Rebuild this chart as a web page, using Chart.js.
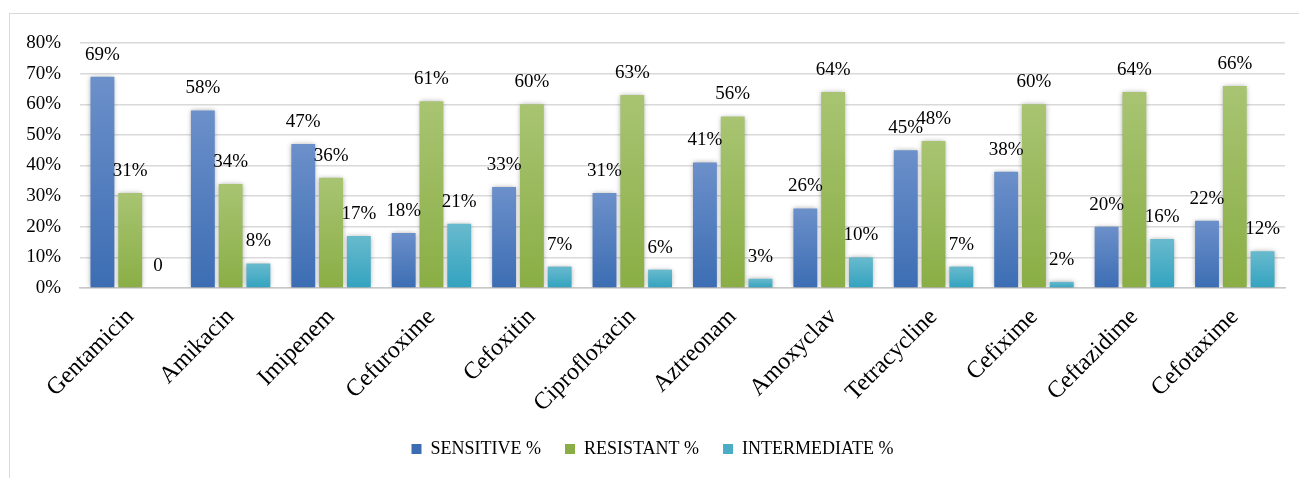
<!DOCTYPE html>
<html>
<head>
<meta charset="utf-8">
<script src="https://cdn.jsdelivr.net/npm/chart.js@4.4.1/dist/chart.umd.min.js"></script>
<style>
  html, body { margin: 0; padding: 0; background: #fff; overflow: hidden; }
  #wrap { position: absolute; left: 0; top: 0; width: 1299px; height: 478px; }
  #frame { position: absolute; left: 9px; top: 13px; width: 1400px; height: 600px;
           border: 1px solid #d9d9d9; pointer-events: none; }
</style>
</head>
<body>
<div id="wrap"><canvas id="chart1"></canvas></div>
<div id="frame"></div>
<script>
// antibiotic susceptibility data (percent)
const drugs = ['Gentamicin', 'Amikacin', 'Imipenem', 'Cefuroxime', 'Cefoxitin', 'Ciprofloxacin',
  'Aztreonam', 'Amoxyclav', 'Tetracycline', 'Cefixime', 'Ceftazidime', 'Cefotaxime'];
const sensitive = [69, 58, 47, 18, 33, 31, 41, 26, 45, 38, 20, 22];
const resistant = [31, 34, 36, 61, 60, 63, 56, 64, 48, 60, 64, 66];
const intermediate = [0, 8, 17, 21, 7, 6, 3, 10, 7, 2, 16, 12];
const yTicks = [0, 10, 20, 30, 40, 50, 60, 70, 80];

const serif = 'Liberation Serif, Times New Roman, serif';

// light-on-top gradient per bar, like the office chart
const barFill = (top, bottom, flat) => ctx => {
  const chart = ctx.chart;
  const y = chart.scales.y;
  if (!chart.chartArea || !y || ctx.parsed == null) return flat;
  const y0 = y.getPixelForValue(0);
  const y1 = y.getPixelForValue(ctx.parsed.y);
  if (Math.abs(y0 - y1) < 1) return flat;
  const g = chart.ctx.createLinearGradient(0, y1, 0, y0);
  g.addColorStop(0, top);
  g.addColorStop(1, bottom);
  return g;
};

const barShadow = {
  id: 'barShadow',
  beforeDatasetDraw(chart) {
    const c = chart.ctx;
    c.save();
    c.shadowColor = 'rgba(0,0,0,0.35)';
    c.shadowBlur = 5;
    c.shadowOffsetX = 0;
    c.shadowOffsetY = 0;
  },
  afterDatasetDraw(chart) {
    chart.ctx.restore();
  }
};

const valueLabels = {
  id: 'valueLabels',
  afterDatasetsDraw(chart) {
    const c = chart.ctx;
    c.save();
    c.font = '19px ' + serif;
    c.fillStyle = '#000';
    c.textAlign = 'center';
    c.textBaseline = 'middle';
    chart.data.datasets.forEach((ds, i) => {
      chart.getDatasetMeta(i).data.forEach((bar, j) => {
        const v = ds.data[j];
        c.fillText(v === 0 ? '0' : v + '%', bar.x, bar.y - 22);
      });
    });
    c.restore();
  }
};

const ctx = document.getElementById('chart1').getContext('2d');
new Chart(ctx, {
  type: 'bar',
  data: {
    labels: drugs,
    datasets: [
      { label: 'SENSITIVE %', data: sensitive,
        backgroundColor: barFill('#6c90ca', '#3c6db3', '#4f7fc0') },
      { label: 'RESISTANT %', data: resistant,
        backgroundColor: barFill('#a8c472', '#8aae45', '#9bbb59') },
      { label: 'INTERMEDIATE %', data: intermediate,
        backgroundColor: barFill('#68bacd', '#33a3bf', '#4bacc6') }
    ]
  },
  options: {
    responsive: true,
    maintainAspectRatio: false,
    animation: false,
    datasets: {
      bar: { categoryPercentage: 0.83, barPercentage: 0.86, borderWidth: 0 }
    },
    layout: { padding: { left: 20, right: 14, top: 43, bottom: 10 } },
    plugins: {
      legend: {
        display: true,
        position: 'bottom',
        labels: {
          color: '#000',
          boxWidth: 10,
          boxHeight: 10,
          padding: 24,
          font: { family: serif, size: 18 }
        }
      },
      title: { display: false },
      tooltip: { enabled: false }
    },
    scales: {
      x: {
        ticks: {
          color: '#000',
          autoSkip: false,
          maxRotation: 45,
          minRotation: 45,
          padding: 7,
          font: { family: serif, size: 24 }
        },
        grid: { display: false },
        border: { display: true, color: '#c8c8c8', width: 1.5 },
        afterFit: s => { s.height = 128; s.paddingLeft = 0; s.paddingRight = 0; }
      },
      y: {
        min: 0,
        max: 80,
        afterBuildTicks: s => { s.ticks = yTicks.map(v => ({ value: v })); },
        ticks: {
          color: '#000',
          padding: 19,
          font: { family: serif, size: 19 },
          callback: v => v + '%'
        },
        grid: { color: '#d9d9d9', lineWidth: 1.5, drawTicks: false },
        border: { display: false },
        afterFit: s => { s.width = 60; }
      }
    }
  },
  plugins: [barShadow, valueLabels]
});
</script>
</body>
</html>
